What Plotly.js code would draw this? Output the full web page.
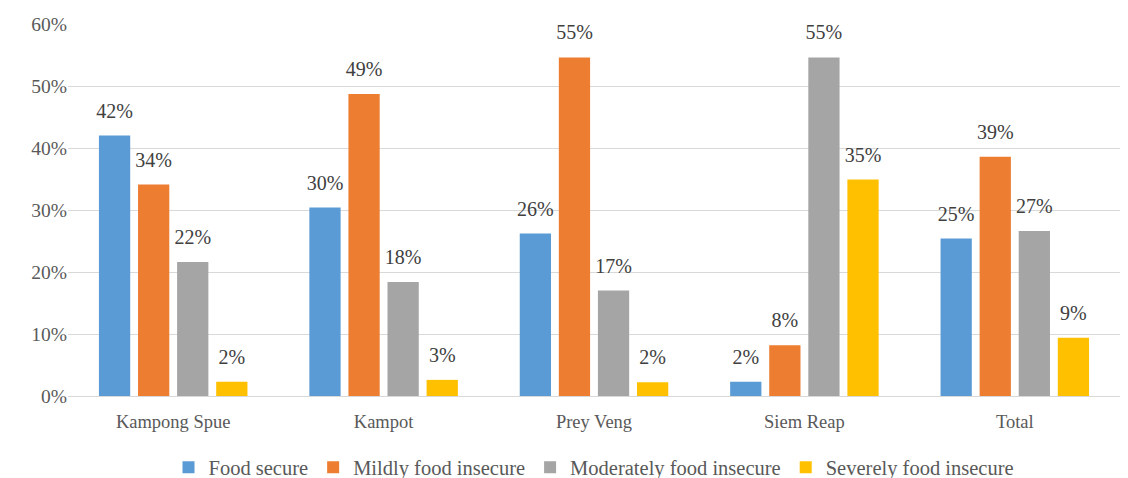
<!DOCTYPE html>
<html><head><meta charset="utf-8">
<script src="https://cdn.plot.ly/plotly-3.0.1.min.js"></script>
<style>body{margin:0;background:#fff}#c{width:1128px;height:478px}</style>
</head><body><div id="c"></div>
<script>
const categories = ['Kampong Spue','Kampot','Prey Veng','Siem Reap','Total'];
const seriesNames = ['Food secure','Mildly food insecure','Moderately food insecure','Severely food insecure'];
const foodSecure = [0.420, 0.304, 0.262, 0.023, 0.254];
const mildly = [0.341, 0.487, 0.546, 0.082, 0.386];
const moderately = [0.216, 0.184, 0.170, 0.546, 0.266];
const severely = [0.023, 0.026, 0.022, 0.349, 0.094];
const colors = ['#5B9BD5','#ED7D31','#A5A5A5','#FFC000'];
const values = [foodSecure, mildly, moderately, severely];
const fam = 'Liberation Serif';
const font = {family:fam, size:19.5, color:'#595959'};
const traces = values.map((v,i)=>({
  type:'bar', name:seriesNames[i], x:categories, y:v,
  marker:{color:colors[i]},
  text:v.map(d=>'<span style="font-size:20px">'+Math.round(d*100)+'%</span><br>&nbsp;'),
  textposition:'outside', cliponaxis:false, constraintext:'none',
  textfont:{family:fam, size:10, color:'#404040'},
  hoverinfo:'none'
}));
const layout = {
  width:1128, height:478,
  margin:{l:68, r:8, t:24, b:82},
  font:font,
  paper_bgcolor:'#fff', plot_bgcolor:'#fff',
  barmode:'group', bargap:0.257, bargroupgap:0.2,
  showlegend:true,
  legend:{orientation:'h', x:0.5, xanchor:'center', yref:'container', y:0.022, yanchor:'middle', font:{family:fam, size:20.5, color:'#595959'}, traceorder:'normal', itemwidth:30},
  xaxis:{tickfont:{family:fam, size:18.5, color:'#595959'}, ticklabelstandoff:9, showline:true, linecolor:'#D9D9D9', linewidth:1, ticks:'', fixedrange:true},
  yaxis:{range:[0,0.6], dtick:0.1, tickformat:'.0%', tickfont:font, gridcolor:'#D9D9D9', gridwidth:1, zeroline:false, showline:false, ticks:'', fixedrange:true}
};
Plotly.newPlot('c', traces, layout, {displayModeBar:false, staticPlot:true});
</script></body></html>
